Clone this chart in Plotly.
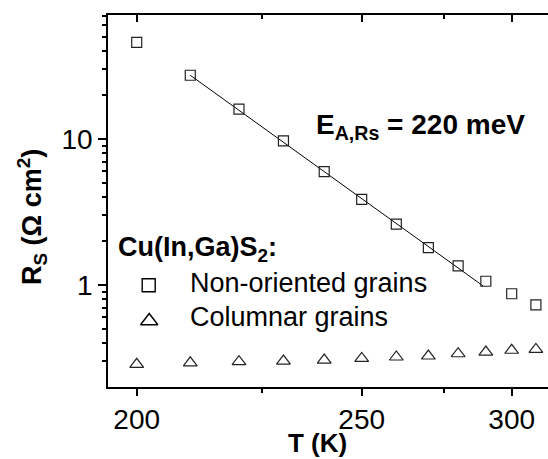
import numpy as np
import plotly.graph_objects as go

# Series resistance vs temperature for Cu(In,Ga)S2 absorbers
temp_nonoriented = [200, 210, 220, 230, 240, 250, 260, 270, 280, 290, 300, 310]
rs_nonoriented = [45.9, 27.3, 16.0, 9.7, 5.97, 3.86, 2.61, 1.80, 1.35, 1.06, 0.87, 0.73]

temp_columnar = [200, 210, 220, 230, 240, 250, 260, 270, 280, 290, 300, 310]
rs_columnar = [0.286, 0.293, 0.298, 0.301, 0.306, 0.314, 0.321, 0.326, 0.338, 0.347, 0.357, 0.362]

# Arrhenius fit over the non-oriented series
activation_energy_mev = 220
fit_temp_range = [210, 289]
fit_anchor_rs = 27.3

x_major_ticks = [200, 250, 300]
x_minor_ticks = [225, 275]
y_major_ticks = [1, 10]
y_minor_ticks = [0.3, 0.4, 0.5, 0.6, 0.7, 0.8, 0.9, 2, 3, 4, 5, 6, 7, 8, 9, 20, 30, 40, 50, 60, 70]

K_B = 8.617e-5  # eV/K

W, H = 548, 459
ML, MR, MT, MB = 108, 0, 15, 72
PW, PH = W - ML - MR, H - MT - MB


def inv(t):
    return [1000.0 / v for v in t]


def px(xp):
    return (xp - ML) / PW


def py(yp):
    return (H - MB - yp) / PH


fit_T = np.array(fit_temp_range, dtype=float)
fit_R = fit_anchor_rs * np.exp(activation_energy_mev * 1e-3 / K_B * (1.0 / fit_T - 1.0 / fit_temp_range[0]))

FONT = "Liberation Sans, Arial, sans-serif"
x_range = [5.1276, 3.1720]
y_range = [np.log10(0.2), np.log10(70.6)]

fig = go.Figure()

fig.add_trace(go.Scatter(
    x=inv(fit_T), y=fit_R, mode="lines",
    line=dict(color="black", width=1), showlegend=False, hoverinfo="skip"))

fig.add_trace(go.Scatter(
    x=inv(temp_nonoriented), y=rs_nonoriented, mode="markers",
    marker=dict(symbol="square-open", size=10, color="#222", line=dict(width=1.2)),
    name="Non-oriented grains", showlegend=False))

fig.add_trace(go.Scatter(
    x=inv(temp_columnar), y=rs_columnar, mode="markers",
    marker=dict(symbol="triangle-up-open", size=12, color="#222", line=dict(width=1.2)),
    name="Columnar grains", showlegend=False))

# top axis (mirror with inward ticks)
fig.add_trace(go.Scatter(x=[None], y=[None], xaxis="x2", showlegend=False, hoverinfo="skip"))

# legend symbols on a hidden unit overlay
fig.add_trace(go.Scatter(
    x=[px(148.7)], y=[py(285.3)], xaxis="x3", yaxis="y3", mode="markers",
    marker=dict(symbol="square-open", size=13, color="black", line=dict(width=1.4)),
    showlegend=False, hoverinfo="skip"))
fig.add_trace(go.Scatter(
    x=[px(149.2)], y=[py(321)], xaxis="x3", yaxis="y3", mode="markers",
    marker=dict(symbol="triangle-up-open", size=15, color="black", line=dict(width=1.4)),
    showlegend=False, hoverinfo="skip"))

tickfont = dict(family=FONT, size=28, color="black")

fig.update_layout(
    width=W, height=H,
    margin=dict(l=ML, r=MR, t=MT, b=MB, pad=0),
    paper_bgcolor="white", plot_bgcolor="white",
    showlegend=False,
    xaxis=dict(
        range=x_range, showgrid=False, zeroline=False,
        showline=True, linecolor="black", linewidth=1.5,
        tickmode="array", tickvals=inv(x_major_ticks), ticktext=[str(t) for t in x_major_ticks],
        ticks="outside", ticklen=7, tickwidth=1.5, tickcolor="black",
        tickfont=tickfont,
        minor=dict(tickvals=inv(x_minor_ticks), ticks="outside", ticklen=4, tickwidth=1.5, tickcolor="black"),
    ),
    xaxis2=dict(
        range=x_range, overlaying="x", side="top", anchor="y",
        showgrid=False, zeroline=False, showticklabels=False,
        showline=True, linecolor="black", linewidth=1.5,
        tickmode="array", tickvals=inv(x_major_ticks),
        ticks="inside", ticklen=7, tickwidth=1.5, tickcolor="black",
        minor=dict(tickvals=inv(x_minor_ticks), ticks="inside", ticklen=4, tickwidth=1.5, tickcolor="black"),
    ),
    yaxis=dict(
        type="log", range=y_range, showgrid=False, zeroline=False,
        showline=True, linecolor="black", linewidth=1.5,
        tickmode="array", tickvals=y_major_ticks, ticktext=[str(t) for t in y_major_ticks],
        ticks="outside", ticklen=8, tickwidth=1.5, tickcolor="black",
        tickfont=tickfont,
        minor=dict(tickvals=y_minor_ticks, ticks="outside", ticklen=4, tickwidth=1.5, tickcolor="black"),
    ),
    xaxis3=dict(range=[0, 1], overlaying="x", visible=False),
    yaxis3=dict(range=[0, 1], overlaying="y", visible=False),
)

annotations = [
    dict(text="<b>T (K)</b>", x=px(317), y=py(443), xanchor="center", yanchor="middle",
         font=dict(family=FONT, size=26, color="black")),
    dict(text="<b>R<sub>S</sub> (Ω cm<sup>2</sup>)</b>", x=px(32), y=py(217), xanchor="center", yanchor="middle",
         textangle=-90, font=dict(family=FONT, size=27, color="black")),
    dict(text=f"<b>E<sub>A,Rs</sub> = {activation_energy_mev} meV</b>", x=px(314), y=py(127),
         xanchor="left", yanchor="middle", font=dict(family=FONT, size=28, color="black")),
    dict(text="<b>Cu(In,Ga)S<sub>2</sub>:</b>", x=px(116), y=py(249), xanchor="left", yanchor="middle",
         font=dict(family=FONT, size=27, color="black")),
    dict(text="Non-oriented grains", x=px(188), y=py(283), xanchor="left", yanchor="middle",
         font=dict(family=FONT, size=27, color="black")),
    dict(text="Columnar grains", x=px(188), y=py(317), xanchor="left", yanchor="middle",
         font=dict(family=FONT, size=27, color="black")),
]
for a in annotations:
    a.update(xref="paper", yref="paper", showarrow=False)
fig.update_layout(annotations=annotations)

fig.write_html("out.html")
